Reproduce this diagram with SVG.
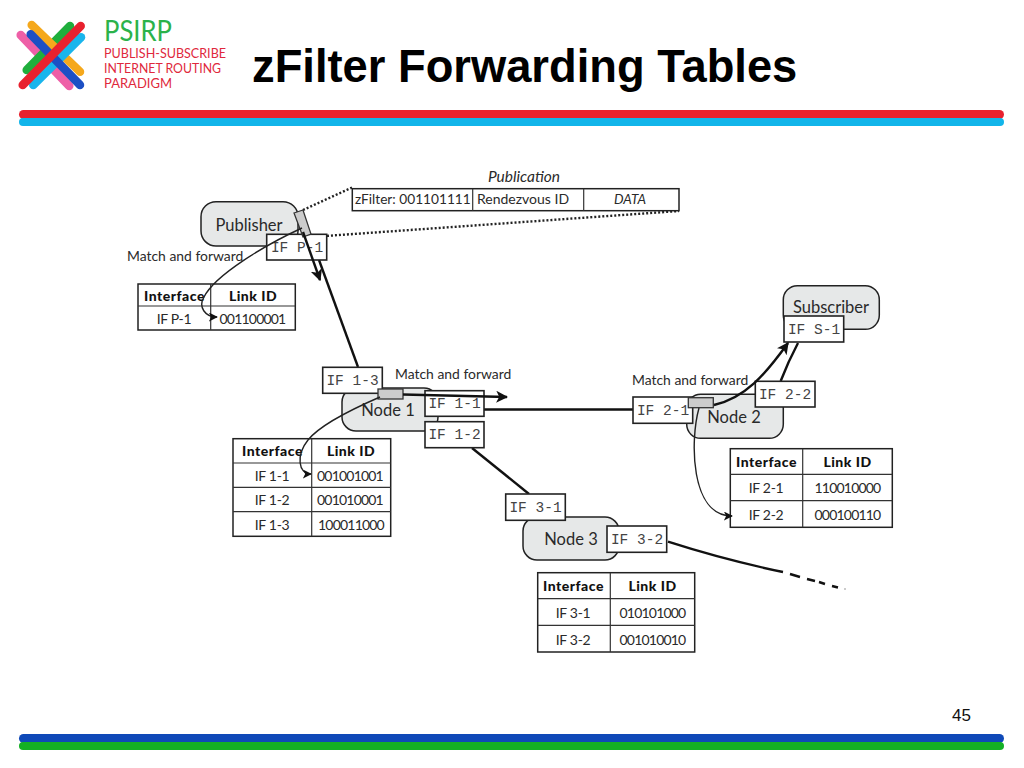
<svg xmlns="http://www.w3.org/2000/svg" width="1024" height="768" viewBox="0 0 1024 768">
<style>
text{font-family:"Lato","Liberation Sans",sans-serif;fill:#2a2a2a}
.title{font-family:"Liberation Sans",Arial,sans-serif;font-weight:700;font-size:45.3px;fill:#000}
.num{font-family:"Liberation Sans",Arial,sans-serif;font-size:17px;fill:#111}
.node{fill:#e6e8e8;stroke:#222;stroke-width:1.5}
.nl{font-size:16.5px;text-anchor:middle}
.ifb{fill:#fff;stroke:#222;stroke-width:1.6}
.ift{font-family:"Liberation Mono",monospace;font-size:14.5px;text-anchor:middle;fill:#444}
.tag{fill:#ccc;stroke:#333;stroke-width:1.3}
.tb{fill:#fff;stroke:#222;stroke-width:1.5}
.tl{stroke:#333;stroke-width:1.2}
.th{font-size:14px;font-weight:900;text-anchor:middle;fill:#111;letter-spacing:.5px}
.td{font-size:14px;text-anchor:middle;letter-spacing:-.3px}
.dg{font-size:14px;text-anchor:middle;letter-spacing:-.8px}
.mf{font-size:13.9px}
.thick{fill:none;stroke:#111;stroke-width:2.4}
.thin{fill:none;stroke:#222;stroke-width:1.4}
.dot{fill:none;stroke:#222;stroke-width:2.4;stroke-dasharray:2 2}
.lg{fill:none;stroke-width:8.5;stroke-linecap:round}
.lt{fill:#e0283c;font-size:14px}
</style>
<defs>
<marker id="ah" viewBox="0 0 10 10" refX="9" refY="5" markerWidth="9" markerHeight="9" markerUnits="userSpaceOnUse" orient="auto"><path d="M0 0L10 5L0 10L2.5 5Z" fill="#111"/></marker>
<marker id="ahb" viewBox="0 0 10 10" refX="9" refY="5" markerWidth="12" markerHeight="12" markerUnits="userSpaceOnUse" orient="auto"><path d="M0 0L10 5L0 10L2.5 5Z" fill="#111"/></marker>
</defs>
<rect width="1024" height="768" fill="#fff"/>
<g id="logo">
<line class="lg" x1="20.7" y1="35" x2="69.3" y2="86" stroke="#ee5fa7"/>
<line class="lg" x1="70" y1="26" x2="26.7" y2="70" stroke="#1fae3c"/>
<line class="lg" x1="31.7" y1="25" x2="80" y2="71.7" stroke="#f5a81c"/>
<line class="lg" x1="81" y1="37.3" x2="33.3" y2="85" stroke="#19b5ec"/>
<line class="lg" x1="30.7" y1="34.3" x2="80" y2="85" stroke="#1c4fc4"/>
<line class="lg" x1="80.7" y1="26" x2="22.7" y2="85" stroke="#e8212e"/>
<text x="104" y="41" font-size="28" style="fill:#2bb24a" textLength="68" lengthAdjust="spacingAndGlyphs">PSIRP</text>
<text class="lt" x="104" y="58" textLength="122" lengthAdjust="spacingAndGlyphs">PUBLISH-SUBSCRIBE</text>
<text class="lt" x="104" y="73" textLength="117" lengthAdjust="spacingAndGlyphs">INTERNET ROUTING</text>
<text class="lt" x="104" y="88" textLength="68" lengthAdjust="spacingAndGlyphs">PARADIGM</text>
</g>
<text class="title" x="252" y="82">zFilter Forwarding Tables</text>
<g id="bars">
<rect x="19" y="110" width="985" height="9" rx="4.5" fill="#e8212e"/>
<rect x="19" y="118" width="985" height="8" rx="4" fill="#12b5ea"/>
<rect x="19" y="734" width="985" height="9" rx="4.5" fill="#0f49b8"/>
<rect x="19" y="742" width="985" height="8" rx="4" fill="#14b025"/>
</g>
<text class="num" x="952" y="721">45</text>

<g id="publisher"><rect class="node" x="201" y="201.7" width="97" height="44.3" rx="15"/><text class="nl" x="249" y="230.7">Publisher</text></g>
<g id="node1"><rect class="node" x="342" y="388" width="96" height="43" rx="14"/><text class="nl" x="388" y="416">Node 1</text></g>
<g id="node2"><rect class="node" x="686.7" y="394.3" width="96.6" height="44" rx="14"/><text class="nl" x="734" y="423">Node 2</text></g>
<g id="node3"><rect class="node" x="523" y="517" width="96" height="43" rx="14"/><text class="nl" x="571" y="545">Node 3</text></g>
<g id="subscriber"><rect class="node" x="783.3" y="285.7" width="96" height="43.6" rx="14"/><text class="nl" x="831" y="312.7">Subscriber</text></g>

<g id="connectors">
<path class="thick" d="M319 260L358 367"/>
<path class="thick" d="M484 409.5H633"/>
<path class="thick" d="M472 448L529 494"/>
<path class="thick" d="M668 541.7Q725 560 783 572"/>
<path class="thick" d="M790 574L800 577M807 579L815 581M819 582L825 584M832 586L838 587.5"/>
<circle cx="845" cy="589" r="1" fill="#bbb"/>
<path class="thick" d="M780.7 381Q788 362 798 343"/>
<path class="dot" d="M303 210L352 187.5"/>
<path class="dot" d="M311 237L679 211"/>
</g>

<g id="if-p1"><rect class="ifb" x="266.7" y="234.3" width="60" height="25.7"/><text class="ift" x="297" y="252">IF P-1</text></g>
<g id="if-13"><rect class="ifb" x="322.7" y="367.3" width="59.6" height="26"/><text class="ift" x="352.5" y="385">IF 1-3</text></g>
<g id="if-11"><rect class="ifb" x="425" y="390.7" width="59" height="25.6"/><text class="ift" x="454.5" y="408">IF 1-1</text></g>
<g id="if-12"><rect class="ifb" x="425" y="421.7" width="59" height="26"/><text class="ift" x="454.5" y="439">IF 1-2</text></g>
<g id="if-21"><rect class="ifb" x="633" y="397" width="59.7" height="26.3"/><text class="ift" x="663" y="415">IF 2-1</text></g>
<g id="if-22"><rect class="ifb" x="755.3" y="381.3" width="59.7" height="25.7"/><text class="ift" x="785" y="399">IF 2-2</text></g>
<g id="if-s1"><rect class="ifb" x="784" y="316" width="59.7" height="26"/><text class="ift" x="814" y="334">IF S-1</text></g>
<g id="if-31"><rect class="ifb" x="505.7" y="494" width="59.6" height="26.3"/><text class="ift" x="535.5" y="512">IF 3-1</text></g>
<g id="if-32"><rect class="ifb" x="607" y="526" width="59.7" height="26.3"/><text class="ift" x="637" y="544">IF 3-2</text></g>

<g id="tags">
<polygon class="tag" points="294,213 303,210 311,234 303,237"/>
<rect class="tag" x="378" y="389" width="25" height="10"/>
<rect class="tag" x="688.3" y="397.7" width="25" height="10"/>
</g>

<g id="publication">
<text x="524" y="182" font-size="15.5" font-style="italic" text-anchor="middle">Publication</text>
<rect class="tb" x="352.3" y="188.7" width="326.7" height="22"/>
<line class="tl" x1="472.7" y1="188.7" x2="472.7" y2="210.7"/>
<line class="tl" x1="583.7" y1="188.7" x2="583.7" y2="210.7"/>
<text x="355" y="204" font-size="13.7">zFilter: 001101111</text>
<text x="477" y="204" font-size="14">Rendezvous ID</text>
<text x="630" y="204" font-size="13.5" font-style="italic" text-anchor="middle">DATA</text>
</g>

<text class="mf" x="127" y="261">Match and forward</text>
<text class="mf" x="395" y="379">Match and forward</text>
<text class="mf" x="632" y="385">Match and forward</text>

<g id="table-p">
<rect class="tb" x="138" y="284" width="157.3" height="46"/>
<line class="tl" x1="210.7" y1="284" x2="210.7" y2="330"/><line class="tl" x1="138" y1="306" x2="295.3" y2="306"/>
<text class="th" x="174.5" y="301">Interface</text><text class="th" x="253" y="301">Link ID</text>
<text class="td" x="174" y="324">IF P-1</text><text class="dg" x="252.5" y="324">001100001</text>
</g>
<g id="table-1">
<rect class="tb" x="233" y="438.7" width="157.7" height="97.6"/>
<line class="tl" x1="311.7" y1="438.7" x2="311.7" y2="536.3"/><line class="tl" x1="233" y1="463" x2="390.7" y2="463"/><line class="tl" x1="233" y1="487.3" x2="390.7" y2="487.3"/><line class="tl" x1="233" y1="511.7" x2="390.7" y2="511.7"/>
<text class="th" x="272.5" y="456">Interface</text><text class="th" x="351" y="456">Link ID</text>
<text class="td" x="272" y="481">IF 1-1</text><text class="dg" x="350" y="481">001001001</text>
<text class="td" x="272" y="505">IF 1-2</text><text class="dg" x="350" y="505">001010001</text>
<text class="td" x="272" y="530">IF 1-3</text><text class="dg" x="351" y="530">100011000</text>
</g>
<g id="table-2">
<rect class="tb" x="730.3" y="448.7" width="162" height="78.6"/>
<line class="tl" x1="802.7" y1="448.7" x2="802.7" y2="527.3"/><line class="tl" x1="730.3" y1="474.3" x2="892.3" y2="474.3"/><line class="tl" x1="730.3" y1="500.7" x2="892.3" y2="500.7"/>
<text class="th" x="766.5" y="467">Interface</text><text class="th" x="847.5" y="467">Link ID</text>
<text class="td" x="766" y="493">IF 2-1</text><text class="dg" x="847.5" y="493">110010000</text>
<text class="td" x="766" y="520">IF 2-2</text><text class="dg" x="847.5" y="520">000100110</text>
</g>
<g id="table-3">
<rect class="tb" x="537.7" y="572.7" width="157" height="79.3"/>
<line class="tl" x1="610.3" y1="572.7" x2="610.3" y2="652"/><line class="tl" x1="537.7" y1="598.7" x2="694.7" y2="598.7"/><line class="tl" x1="537.7" y1="625.3" x2="694.7" y2="625.3"/>
<text class="th" x="573.5" y="591">Interface</text><text class="th" x="652.5" y="591">Link ID</text>
<text class="td" x="573" y="618">IF 3-1</text><text class="dg" x="652.5" y="618">010101000</text>
<text class="td" x="573" y="645">IF 3-2</text><text class="dg" x="652.5" y="645">001010010</text>
</g>

<g id="connectors-top">
<path class="thick" d="M303 232L320 280" marker-end="url(#ahb)"/>
<path class="thick" d="M403 394.5L507 397" marker-end="url(#ahb)"/>
<path class="thick" d="M714 405C745 398 765 375 788 343" marker-end="url(#ahb)"/>
<path class="thin" d="M302 228C265 245 215 275 204 297C198 307 205 317 217 317" marker-end="url(#ah)"/>
<path class="thin" d="M380 397C350 410 320 425 308 440C296 455 298 474 311 474" marker-end="url(#ah)"/>
<path class="thin" d="M699 408C690 440 690 516 732 516" marker-end="url(#ah)"/>
</g>
</svg>
